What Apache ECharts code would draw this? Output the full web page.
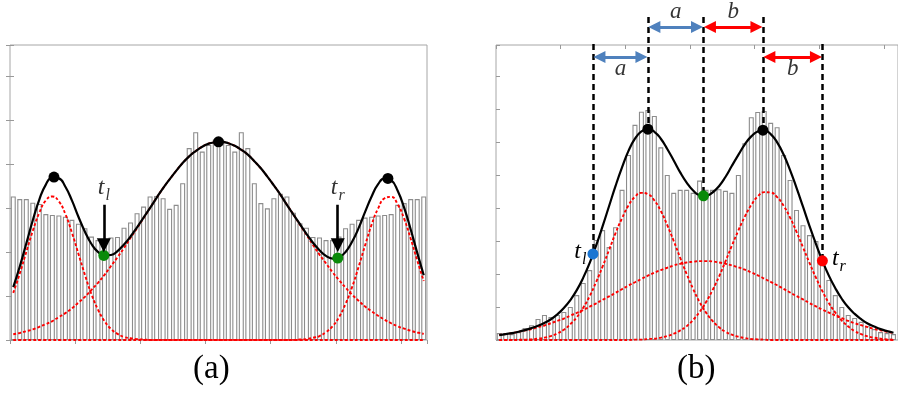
<!DOCTYPE html>
<html>
<head>
<meta charset="utf-8">
<script src="https://cdn.jsdelivr.net/npm/echarts@6/dist/echarts.min.js"></script>
<style>
  html, body { margin: 0; padding: 0; background: #fff; }
  #chart { width: 898px; height: 401px; }
</style>
</head>
<body>
<div id="chart"></div>
<script>
// ---- panel (a): histogram bins, fitted curve and its three components ----
const barsA = [3.26, 3.20, 3.20, 3.12, 3.09, 2.86, 2.84, 2.83, 2.80, 2.73,
               2.64, 2.54, 2.35, 2.27, 2.27, 2.33, 2.34, 2.55, 2.67, 2.88,
               3.03, 3.26, 3.27, 3.22, 2.98, 3.07, 3.56, 4.36, 4.72, 4.28,
               4.43, 4.55, 4.55, 4.43, 4.28, 4.72, 4.36, 3.56, 3.11, 2.99,
               3.22, 3.32, 3.26, 2.89, 2.65, 2.55, 2.34, 2.33, 2.27, 2.27,
               2.35, 2.54, 2.64, 2.73, 2.78, 2.80, 2.83, 2.84, 2.86, 3.07,
               3.11, 3.20, 3.20, 3.26];
const fitA = [1.20, 1.67, 2.19, 2.72, 3.19, 3.53, 3.69, 3.67, 3.48, 3.17,
              2.80, 2.46, 2.18, 2.00, 1.92, 1.93, 2.02, 2.17, 2.35, 2.56,
              2.78, 3.00, 3.23, 3.45, 3.65, 3.84, 4.02, 4.17, 4.29, 4.39,
              4.46, 4.49, 4.50, 4.47, 4.41, 4.32, 4.21, 4.06, 3.90, 3.71,
              3.51, 3.30, 3.07, 2.85, 2.63, 2.41, 2.21, 2.04, 1.91, 1.85,
              1.88, 2.00, 2.23, 2.54, 2.91, 3.26, 3.54, 3.67, 3.63, 3.39,
              3.00, 2.51, 1.98, 1.47];
const compA1 = [1.07, 1.51, 2.00, 2.48, 2.89, 3.17, 3.26, 3.15, 2.86, 2.44,
                1.96, 1.48, 1.04, 0.69, 0.43, 0.25, 0.14, 0.07, 0.04, 0.02,
                0.01, 0, 0, 0, 0, 0, 0, 0, 0, 0,
                0, 0, 0, 0, 0, 0, 0, 0, 0, 0,
                0, 0, 0, 0, 0, 0, 0, 0, 0, 0,
                0, 0, 0, 0, 0, 0, 0, 0, 0, 0,
                0, 0, 0, 0];
const compA2 = [0.13, 0.16, 0.20, 0.24, 0.30, 0.36, 0.43, 0.52, 0.61, 0.72,
                0.85, 0.98, 1.14, 1.30, 1.48, 1.68, 1.88, 2.09, 2.32, 2.54,
                2.77, 3.00, 3.23, 3.45, 3.65, 3.84, 4.02, 4.17, 4.29, 4.39,
                4.46, 4.49, 4.50, 4.47, 4.41, 4.32, 4.21, 4.06, 3.90, 3.71,
                3.51, 3.30, 3.07, 2.85, 2.62, 2.39, 2.16, 1.94, 1.74, 1.54,
                1.36, 1.19, 1.03, 0.89, 0.76, 0.65, 0.55, 0.46, 0.38, 0.31,
                0.26, 0.21, 0.17, 0.14];
const compA3 = [0, 0, 0, 0, 0, 0, 0, 0, 0, 0,
                0, 0, 0, 0, 0, 0, 0, 0, 0, 0,
                0, 0, 0, 0, 0, 0, 0, 0, 0, 0,
                0, 0, 0, 0, 0, 0, 0, 0, 0, 0,
                0, 0, 0, 0, 0.01, 0.02, 0.05, 0.09, 0.18, 0.31,
                0.52, 0.82, 1.20, 1.66, 2.15, 2.62, 2.99, 3.22, 3.25, 3.08,
                2.75, 2.30, 1.81, 1.34];
const peaksA = [[6.75, 3.70], [32.0, 4.50], [58.0, 3.67]];
const valleysA = [[14.4, 1.92], [50.3, 1.86]];
const arrowTopA = 3.07;
const arrowEndA = 2.15;

// ---- panel (b) ----
const barsB = [0.21, 0.21, 0.18, 0.24, 0.36, 0.45, 0.64, 0.76, 0.70, 0.76,
               0.85, 1.00, 1.36, 1.73, 2.12, 3.03, 3.33, 2.82, 3.42, 4.55,
               5.61, 6.52, 6.92, 6.97, 6.79, 5.84, 5.00, 4.46, 4.55, 4.55,
               4.46, 4.83, 4.55, 4.55, 4.57, 4.52, 4.46, 5.00, 5.96, 6.75,
               6.91, 6.94, 6.58, 6.45, 5.61, 4.85, 3.94, 3.48, 3.18, 3.00,
               2.27, 1.82, 1.36, 1.00, 0.76, 0.67, 0.55, 0.42, 0.33, 0.24,
               0.21, 0.18];
const fitB = [0.15, 0.18, 0.21, 0.25, 0.30, 0.36, 0.43, 0.52, 0.63, 0.78,
              0.97, 1.21, 1.51, 1.89, 2.34, 2.87, 3.45, 4.06, 4.67, 5.23,
              5.73, 6.10, 6.32, 6.39, 6.31, 6.10, 5.79, 5.44, 5.08, 4.77,
              4.53, 4.39, 4.37, 4.47, 4.66, 4.94, 5.28, 5.61, 5.93, 6.17,
              6.32, 6.35, 6.24, 5.99, 5.62, 5.15, 4.61, 4.04, 3.46, 2.91,
              2.40, 1.95, 1.57, 1.25, 0.99, 0.79, 0.63, 0.50, 0.41, 0.33,
              0.27, 0.22];
const compB1 = [0, 0, 0, 0.01, 0.01, 0.02, 0.04, 0.07, 0.12, 0.20,
                0.31, 0.48, 0.69, 0.98, 1.33, 1.76, 2.23, 2.73, 3.24, 3.69,
                4.08, 4.34, 4.46, 4.42, 4.23, 3.91, 3.48, 3.00, 2.49, 2.00,
                1.55, 1.15, 0.83, 0.58, 0.39, 0.25, 0.16, 0.10, 0.06, 0.03,
                0.02, 0.01, 0, 0, 0, 0, 0, 0, 0, 0,
                0, 0, 0, 0, 0, 0, 0, 0, 0, 0,
                0, 0];
const compB2 = [0.15, 0.18, 0.21, 0.25, 0.29, 0.33, 0.39, 0.44, 0.51, 0.58,
                0.65, 0.74, 0.82, 0.91, 1.01, 1.11, 1.22, 1.32, 1.43, 1.54,
                1.65, 1.75, 1.85, 1.95, 2.04, 2.12, 2.19, 2.26, 2.31, 2.35,
                2.37, 2.39, 2.39, 2.38, 2.35, 2.31, 2.26, 2.20, 2.13, 2.05,
                1.96, 1.86, 1.76, 1.66, 1.55, 1.44, 1.33, 1.23, 1.12, 1.02,
                0.92, 0.83, 0.74, 0.66, 0.58, 0.51, 0.45, 0.39, 0.34, 0.29,
                0.25, 0.21];
const compB3 = [0, 0, 0, 0, 0, 0, 0, 0, 0, 0,
                0, 0, 0, 0, 0, 0, 0, 0, 0, 0,
                0, 0.01, 0.01, 0.03, 0.04, 0.07, 0.12, 0.19, 0.29, 0.42,
                0.61, 0.85, 1.15, 1.51, 1.92, 2.38, 2.86, 3.32, 3.74, 4.09,
                4.35, 4.48, 4.47, 4.33, 4.07, 3.71, 3.28, 2.81, 2.34, 1.89,
                1.48, 1.12, 0.83, 0.59, 0.41, 0.27, 0.18, 0.11, 0.07, 0.04,
                0.02, 0.01];
const tlB = [15.0, 2.61];
const peaksB = [[23.5, 6.39], [41.3, 6.36]];
const valleyB = [32.1, 4.37];
const trB = [50.5, 2.40];
// heights of the guide lines / arrow rows above panel (b), same units as its y axis
const guideTopHigh = 9.79;
const guideTopLow = 8.97;
const rowUpper = 9.485;
const rowLower = 8.576;
const labelUpper = 9.93;
const labelLower = 8.22;

const SERIF = 'Liberation Serif';
const RED = '#ff0000';
const BLUE = '#4f81bd';
const FRAME = '#a6a6a6';

const toXY = arr => arr.map((v, i) => [i + 0.5, v]);

const tickAxis = (gridIndex, position, min, max) => ({
    gridIndex: gridIndex,
    type: 'value',
    position: position,
    min: min,
    max: max,
    interval: position === 'top' ? 10 : 1,
    axisLine: { show: false },
    axisTick: { show: true, inside: true, length: 4, lineStyle: { color: '#999' } },
    axisLabel: { show: false },
    splitLine: { show: false }
});

const hiddenAxis = (gridIndex, min, max) => ({
    gridIndex: gridIndex, type: 'value', min: min, max: max, show: false
});

const subLabel = (sub) => '{t|t}{s|' + sub + '}';
const subRich = {
    t: { fontFamily: SERIF, fontStyle: 'italic', fontSize: 24, color: '#000', verticalAlign: 'top' },
    s: { fontFamily: SERIF, fontStyle: 'italic', fontSize: 16, color: '#000', verticalAlign: 'bottom', padding: [12, 0, 0, 1] }
};

const redDash = (name, data, xi, yi) => ({
    name: name,
    type: 'line',
    xAxisIndex: xi,
    yAxisIndex: yi,
    data: toXY(data),
    smooth: true,
    symbol: 'none',
    z: 3,
    lineStyle: { color: RED, width: 1.9, type: [3, 2] }
});

const blackFit = (data, xi, yi) => ({
    type: 'line',
    xAxisIndex: xi,
    yAxisIndex: yi,
    data: toXY(data),
    smooth: true,
    symbol: 'none',
    z: 4,
    lineStyle: { color: '#000', width: 2.2 }
});

const bars = (data, xi, yi) => ({
    type: 'bar',
    xAxisIndex: xi,
    yAxisIndex: yi,
    data: toXY(data),
    barWidth: 5,
    z: 2,
    itemStyle: { color: '#fff', borderColor: '#8c8c8c', borderWidth: 1.1 }
});

const dots = (data, color, xi, yi, label) => ({
    type: 'scatter',
    xAxisIndex: xi,
    yAxisIndex: yi,
    data: data,
    symbolSize: 11,
    z: 6,
    itemStyle: { color: color, opacity: 1 },
    label: label || { show: false }
});

const inset = 1.0;

let chart = echarts.init(document.getElementById('chart'), null, { renderer: 'canvas' });

let option = {
    animation: false,
    backgroundColor: '#fff',
    title: [
        { text: '(a)', left: 188, top: 348, textStyle: { fontFamily: SERIF, fontSize: 33, fontWeight: 'normal', color: '#000' } },
        { text: '(b)', left: 672, top: 348, textStyle: { fontFamily: SERIF, fontSize: 33, fontWeight: 'normal', color: '#000' } }
    ],
    grid: [
        { left: 10, top: 45, width: 417, height: 295, show: true, borderColor: FRAME, borderWidth: 1 },
        { left: 496, top: 45, width: 404, height: 295, show: true, borderColor: FRAME, borderWidth: 1 },
        { left: 496, top: 0, width: 402, height: 340 }
    ],
    xAxis: [
        hiddenAxis(0, 0, 64),
        tickAxis(0, 'top', 0, 64),
        hiddenAxis(1, 0, 62.2),
        tickAxis(1, 'top', 0, 62.2),
        hiddenAxis(2, 0, 62.2)
    ],
    yAxis: [
        tickAxis(0, 'left', 0, 6.7),
        tickAxis(0, 'right', 0, 6.7),
        tickAxis(1, 'left', 0, 8.94),
        hiddenAxis(2, 0, 10.303)
    ],
    series: [
        // ---- panel (a) ----
        bars(barsA, 0, 0),
        redDash('a1', compA1, 0, 0),
        redDash('a2', compA2, 0, 0),
        redDash('a3', compA3, 0, 0),
        blackFit(fitA, 0, 0),
        dots(peaksA, '#000', 0, 0),
        dots(valleysA, '#0a8a0a', 0, 0),
        {
            type: 'lines',
            coordinateSystem: 'cartesian2d',
            xAxisIndex: 0,
            yAxisIndex: 0,
            z: 7,
            symbol: ['none', 'triangle'],
            symbolSize: 14,
            lineStyle: { color: '#000', width: 2.6, opacity: 1 },
            data: valleysA.map(p => ({ coords: [[p[0], arrowTopA], [p[0], arrowEndA]] }))
        },
        {
            type: 'scatter',
            xAxisIndex: 0,
            yAxisIndex: 0,
            symbolSize: 0,
            z: 7,
            data: valleysA.map((p, i) => ({ value: [p[0], arrowTopA], name: i === 0 ? 'l' : 'r' })),
            label: {
                show: true,
                position: 'top',
                distance: 1,
                formatter: p => subLabel(p.name),
                rich: subRich
            }
        },

        // ---- panel (b) ----
        bars(barsB, 2, 2),
        redDash('b1', compB1, 2, 2),
        redDash('b2', compB2, 2, 2),
        redDash('b3', compB3, 2, 2),
        blackFit(fitB, 2, 2),
        {
            type: 'lines',
            coordinateSystem: 'cartesian2d',
            xAxisIndex: 4,
            yAxisIndex: 3,
            z: 5,
            symbol: 'none',
            lineStyle: { color: '#000', width: 2.5, type: [6, 4], opacity: 1 },
            data: [
                { coords: [[tlB[0], guideTopLow], tlB] },
                { coords: [[peaksB[0][0], guideTopHigh], peaksB[0]] },
                { coords: [[valleyB[0], guideTopHigh], valleyB] },
                { coords: [[peaksB[1][0], guideTopHigh], peaksB[1]] },
                { coords: [[trB[0], guideTopLow], trB] }
            ]
        },
        {
            type: 'lines',
            coordinateSystem: 'cartesian2d',
            xAxisIndex: 4,
            yAxisIndex: 3,
            z: 6,
            symbol: ['triangle', 'triangle'],
            symbolSize: 12,
            lineStyle: { color: BLUE, width: 3, opacity: 1 },
            data: [
                { coords: [[peaksB[0][0] + inset, rowUpper], [valleyB[0] - inset, rowUpper]] },
                { coords: [[tlB[0] + inset, rowLower], [peaksB[0][0] - inset, rowLower]] }
            ]
        },
        {
            type: 'lines',
            coordinateSystem: 'cartesian2d',
            xAxisIndex: 4,
            yAxisIndex: 3,
            z: 6,
            symbol: ['triangle', 'triangle'],
            symbolSize: 12,
            lineStyle: { color: RED, width: 3, opacity: 1 },
            data: [
                { coords: [[valleyB[0] + inset, rowUpper], [peaksB[1][0] - inset, rowUpper]] },
                { coords: [[peaksB[1][0] + inset, rowLower], [trB[0] - inset, rowLower]] }
            ]
        },
        {
            type: 'scatter',
            xAxisIndex: 4,
            yAxisIndex: 3,
            symbolSize: 0,
            z: 7,
            data: [
                { value: [(peaksB[0][0] + valleyB[0]) / 2, labelUpper], name: 'a' },
                { value: [(tlB[0] + peaksB[0][0]) / 2, labelLower], name: 'a' },
                { value: [(valleyB[0] + peaksB[1][0]) / 2, labelUpper], name: 'b' },
                { value: [(peaksB[1][0] + trB[0]) / 2, labelLower], name: 'b' }
            ],
            label: {
                show: true,
                position: 'inside',
                formatter: '{b}',
                fontFamily: SERIF,
                fontStyle: 'italic',
                fontSize: 23,
                color: '#000'
            }
        },
        dots(peaksB, '#000', 2, 2),
        dots([valleyB], '#0a8a0a', 2, 2),
        dots([tlB], '#1a75d2', 2, 2, {
            show: true, position: 'left', distance: 1,
            formatter: subLabel('l'), rich: subRich
        }),
        dots([trB], RED, 2, 2, {
            show: true, position: 'right', distance: 4,
            formatter: subLabel('r'), rich: subRich
        })
    ]
};

chart.setOption(option);

window.addEventListener('resize', function () {
    chart.resize();
});
</script>
</body>
</html>
